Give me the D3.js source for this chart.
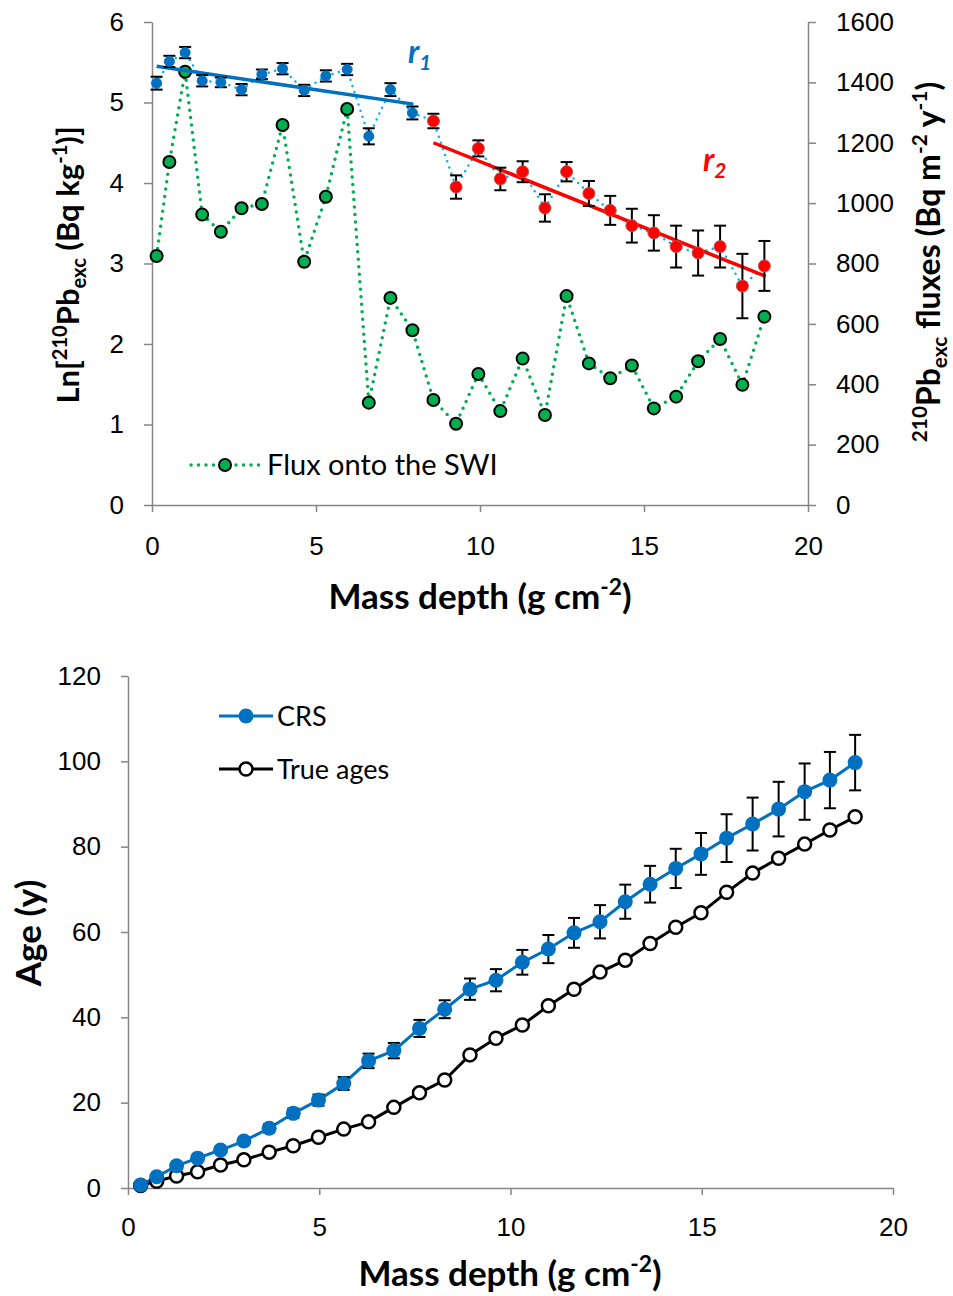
<!DOCTYPE html>
<html>
<head>
<meta charset="utf-8">
<script src="https://cdn.jsdelivr.net/npm/d3@7"></script>
<style>
  body { margin: 0; background: #fff; }
  svg { display: block; font-family: Lato, "Open Sans", sans-serif; }
</style>
</head>
<body>
<div id="chart"></div>
<script>
// ---- top panel data ----
const massDepth = [0.14, 0.53, 1.01, 1.53, 2.10, 2.73, 3.35, 3.98, 4.64, 5.30, 5.95, 6.61, 7.27, 7.94,
  8.58, 9.27, 9.95, 10.62, 11.30, 11.98, 12.64, 13.32, 13.97, 14.63, 15.30, 15.98, 16.65, 17.32, 18.00, 18.67];
const lnPb = [5.24, 5.51, 5.62, 5.27, 5.25, 5.16, 5.35, 5.42, 5.15, 5.33, 5.41, 4.58, 5.16, 4.87,
  4.77, 3.95, 4.43, 4.05, 4.14, 3.69, 4.14, 3.87, 3.66, 3.47, 3.38, 3.21, 3.13, 3.21, 2.72, 2.97];
const lnErr = [0.08, 0.07, 0.07, 0.07, 0.06, 0.07, 0.06, 0.07, 0.07, 0.07, 0.07, 0.10, 0.08, 0.08,
  0.09, 0.145, 0.10, 0.14, 0.13, 0.17, 0.12, 0.155, 0.18, 0.21, 0.22, 0.26, 0.28, 0.26, 0.40, 0.31];
const r1Count = 14; // first 14 points belong to r1 (blue), rest to r2 (red)
const flux = [825, 1136, 1435, 962, 905, 983, 997, 1259, 806, 1021, 1312, 339, 686, 579,
  348, 269, 434, 311, 485, 298, 692, 469, 420, 462, 320, 359, 476, 550, 398, 624];
const r1Line = [[0.14, 5.45], [7.97, 4.98]];
const r2Line = [[8.58, 4.50], [18.71, 2.84]];
const xTicksTop = [0, 5, 10, 15, 20];
const lnTicks = [0, 1, 2, 3, 4, 5, 6];
const fluxTicks = [0, 200, 400, 600, 800, 1000, 1200, 1400, 1600];

// ---- bottom panel data ----
const ageDepth = [0.33, 0.75, 1.27, 1.82, 2.42, 3.03, 3.69, 4.32, 4.98, 5.64, 6.29, 6.95, 7.62, 8.28, 8.94,
  9.62, 10.31, 10.99, 11.66, 12.34, 13.00, 13.65, 14.32, 14.98, 15.65, 16.33, 17.01, 17.69, 18.35, 19.01];
const crsAge = [0.7, 2.65, 5.2, 7.0, 8.9, 11.0, 14.0, 17.5, 20.6, 24.5, 29.8, 32.2, 37.4, 41.9, 46.6,
  48.7, 52.9, 56.0, 59.8, 62.4, 67.1, 71.2, 74.9, 78.3, 82.0, 85.3, 88.8, 92.9, 95.6, 99.7];
const crsErr = [0.3, 0.4, 0.5, 0.6, 0.7, 0.8, 1.0, 1.1, 1.3, 1.5, 1.7, 1.8, 2.0, 2.1, 2.5,
  2.6, 2.9, 3.3, 3.5, 3.9, 4.0, 4.3, 4.6, 4.9, 5.6, 6.2, 6.4, 6.6, 6.6, 6.5];
const trueAge = [0.6, 1.6, 2.8, 3.8, 5.4, 6.6, 8.4, 9.9, 11.9, 13.8, 15.5, 18.9, 22.3, 25.3, 31.2,
  35.1, 38.2, 42.7, 46.6, 50.6, 53.4, 57.3, 61.1, 64.5, 69.3, 73.8, 77.3, 80.6, 83.9, 87.0];
const xTicksBottom = [0, 5, 10, 15, 20];
const ageTicks = [0, 20, 40, 60, 80, 100, 120];

const width = 953, height = 1296;
const axisGrey = "#868686";
const fmt = d3.format("d");

const svg = d3.select("#chart").append("svg")
    .attr("width", width)
    .attr("height", height);

// text with super/subscripts: parts = [[text, kind]]
function rich(sel, parts, size) {
  let cur = 0;
  parts.forEach(([t, kind]) => {
    const target = kind === "sup" ? -0.4 * size : kind === "sub" ? 0.22 * size : 0;
    sel.append("tspan")
        .attr("dy", target - cur)
        .attr("font-size", kind ? size * 0.65 : size)
        .text(t);
    cur = target;
  });
}

function styleAxis(g) {
  g.selectAll("path, line").attr("stroke", axisGrey).attr("stroke-width", 1.5);
  g.selectAll("text").attr("fill", "#000").attr("font-size", 26);
}

// ================= TOP PANEL =================
const x1 = d3.scaleLinear().domain([0, 20]).range([152, 808]);
const yLn = d3.scaleLinear().domain([0, 6]).range([505, 22]);
const yFlux = d3.scaleLinear().domain([0, 1600]).range([505, 22]);

const topG = svg.append("g");

topG.append("g")
    .attr("transform", "translate(0,505)")
    .call(d3.axisBottom(x1).tickValues(xTicksTop).tickFormat(fmt).tickSize(7).tickPadding(25).tickSizeOuter(0))
    .call(styleAxis);
topG.append("g")
    .attr("transform", "translate(152,0)")
    .call(d3.axisLeft(yLn).tickValues(lnTicks).tickFormat(fmt).tickSize(8).tickPadding(20).tickSizeOuter(0))
    .call(styleAxis);
topG.append("g")
    .attr("transform", "translate(808,0)")
    .call(d3.axisRight(yFlux).tickValues(fluxTicks).tickFormat(fmt).tickSize(8).tickPadding(20).tickSizeOuter(0))
    .call(styleAxis);

// flux series (dotted green)
const fluxData = massDepth.map((d, i) => [d, flux[i]]);
topG.append("path")
    .datum(fluxData)
    .attr("fill", "none")
    .attr("stroke", "#00b050")
    .attr("stroke-width", 3.5)
    .attr("stroke-linecap", "round")
    .attr("stroke-dasharray", "0 7.5")
    .attr("d", d3.line().x(d => x1(d[0])).y(d => yFlux(d[1])));
topG.append("g").selectAll("circle")
    .data(fluxData)
    .join("circle")
    .attr("cx", d => x1(d[0]))
    .attr("cy", d => yFlux(d[1]))
    .attr("r", 6)
    .attr("fill", "#00b050")
    .attr("stroke", "#000")
    .attr("stroke-width", 2);

// ln series
const lnData = massDepth.map((d, i) => ({ x: d, y: lnPb[i], e: lnErr[i], grp: i < r1Count ? 1 : 2 }));
topG.append("path")
    .datum(lnData)
    .attr("fill", "none")
    .attr("stroke", "#00b0f0")
    .attr("stroke-width", 2.5)
    .attr("stroke-linecap", "round")
    .attr("stroke-dasharray", "0 6.5")
    .attr("d", d3.line().x(d => x1(d.x)).y(d => yLn(d.y)));

// regression lines
const fitLine = d3.line().x(d => x1(d[0])).y(d => yLn(d[1]));
topG.append("path").datum(r1Line).attr("d", fitLine)
    .attr("stroke", "#0070c0").attr("stroke-width", 3.5).attr("fill", "none");
topG.append("path").datum(r2Line).attr("d", fitLine)
    .attr("stroke", "#ff0000").attr("stroke-width", 3.5).attr("fill", "none");

// error bars
const lnBars = topG.append("g").attr("stroke", "#000").attr("stroke-width", 2);
lnData.forEach(d => {
  const cx = x1(d.x), y0 = yLn(d.y - d.e), y1 = yLn(d.y + d.e);
  lnBars.append("line").attr("x1", cx).attr("x2", cx).attr("y1", y0).attr("y2", y1);
  lnBars.append("line").attr("x1", cx - 6).attr("x2", cx + 6).attr("y1", y0).attr("y2", y0);
  lnBars.append("line").attr("x1", cx - 6).attr("x2", cx + 6).attr("y1", y1).attr("y2", y1);
});

topG.append("g").selectAll("circle")
    .data(lnData)
    .join("circle")
    .attr("cx", d => x1(d.x))
    .attr("cy", d => yLn(d.y))
    .attr("r", d => d.grp === 1 ? 5 : 6)
    .attr("fill", d => d.grp === 1 ? "#0070c0" : "#ff0000")
    .attr("stroke", d => d.grp === 1 ? "#0070c0" : "#c0504d")
    .attr("stroke-width", 1);

// r1 / r2 labels
const r1Txt = topG.append("text").attr("x", 408).attr("y", 63)
    .attr("fill", "#0070c0").attr("font-weight", "bold").attr("font-style", "italic");
rich(r1Txt, [["r", null], ["1", "sub"]], 32);
const r2Txt = topG.append("text").attr("x", 703).attr("y", 171)
    .attr("fill", "#ff0000").attr("font-weight", "bold").attr("font-style", "italic");
rich(r2Txt, [["r", null], ["2", "sub"]], 32);

// legend
topG.append("line").attr("x1", 191).attr("x2", 260).attr("y1", 465).attr("y2", 465)
    .attr("stroke", "#00b050").attr("stroke-width", 3.5).attr("stroke-linecap", "round")
    .attr("stroke-dasharray", "0 7.5");
topG.append("circle").attr("cx", 225).attr("cy", 465).attr("r", 6)
    .attr("fill", "#00b050").attr("stroke", "#000").attr("stroke-width", 2);
topG.append("text").attr("x", 267).attr("y", 475).attr("font-size", 29).text("Flux onto the SWI");

// axis titles
const xt1 = topG.append("text").attr("x", 480).attr("y", 609)
    .attr("text-anchor", "middle").attr("font-weight", "bold");
rich(xt1, [["Mass depth (g cm", null], ["-2", "sup"], [")", null]], 35);

const ytl = topG.append("text").attr("transform", "translate(79,265) rotate(-90)")
    .attr("text-anchor", "middle").attr("font-weight", "bold");
rich(ytl, [["Ln[", null], ["210", "sup"], ["Pb", null], ["exc", "sub"], [" (Bq kg", null], ["-1", "sup"], [")]", null]], 31);

const ytr = topG.append("text").attr("transform", "translate(940,262) rotate(-90)")
    .attr("text-anchor", "middle").attr("font-weight", "bold");
rich(ytr, [["210", "sup"], ["Pb", null], ["exc", "sub"], [" fluxes (Bq m", null], ["-2", "sup"], [" y", null], ["-1", "sup"], [")", null]], 32);

// ================= BOTTOM PANEL =================
const x2 = d3.scaleLinear().domain([0, 20]).range([128, 893]);
const yAge = d3.scaleLinear().domain([0, 120]).range([1188, 676]);

const botG = svg.append("g");
botG.append("g")
    .attr("transform", "translate(0,1188)")
    .call(d3.axisBottom(x2).tickValues(xTicksBottom).tickFormat(fmt).tickSize(7).tickPadding(23).tickSizeOuter(0))
    .call(styleAxis);
botG.append("g")
    .attr("transform", "translate(128,0)")
    .call(d3.axisLeft(yAge).tickValues(ageTicks).tickFormat(fmt).tickSize(7).tickPadding(20).tickSizeOuter(0))
    .call(styleAxis);

const lineAge = d3.line().x(d => x2(d[0])).y(d => yAge(d[1]));
const crsData = ageDepth.map((d, i) => [d, crsAge[i], crsErr[i]]);
const trueData = ageDepth.map((d, i) => [d, trueAge[i]]);

botG.append("path").datum(trueData).attr("d", lineAge)
    .attr("fill", "none").attr("stroke", "#000").attr("stroke-width", 3);
botG.append("path").datum(crsData).attr("d", lineAge)
    .attr("fill", "none").attr("stroke", "#0070c0").attr("stroke-width", 3);

const ageBars = botG.append("g").attr("stroke", "#000").attr("stroke-width", 2);
crsData.forEach(d => {
  const cx = x2(d[0]), y0 = yAge(d[1] - d[2]), y1 = yAge(d[1] + d[2]);
  ageBars.append("line").attr("x1", cx).attr("x2", cx).attr("y1", y0).attr("y2", y1);
  ageBars.append("line").attr("x1", cx - 6).attr("x2", cx + 6).attr("y1", y0).attr("y2", y0);
  ageBars.append("line").attr("x1", cx - 6).attr("x2", cx + 6).attr("y1", y1).attr("y2", y1);
});

botG.append("g").selectAll("circle")
    .data(trueData)
    .join("circle")
    .attr("cx", d => x2(d[0])).attr("cy", d => yAge(d[1]))
    .attr("r", 6.5).attr("fill", "#fff").attr("stroke", "#000").attr("stroke-width", 2.5);
botG.append("g").selectAll("circle")
    .data(crsData)
    .join("circle")
    .attr("cx", d => x2(d[0])).attr("cy", d => yAge(d[1]))
    .attr("r", 7.5).attr("fill", "#0070c0");

// legend
botG.append("line").attr("x1", 219).attr("x2", 273).attr("y1", 716).attr("y2", 716)
    .attr("stroke", "#0070c0").attr("stroke-width", 3);
botG.append("circle").attr("cx", 246).attr("cy", 716).attr("r", 7.5).attr("fill", "#0070c0");
botG.append("text").attr("x", 277).attr("y", 726).attr("font-size", 27).text("CRS");
botG.append("line").attr("x1", 219).attr("x2", 273).attr("y1", 769).attr("y2", 769)
    .attr("stroke", "#000").attr("stroke-width", 3);
botG.append("circle").attr("cx", 246).attr("cy", 769).attr("r", 6.5)
    .attr("fill", "#fff").attr("stroke", "#000").attr("stroke-width", 2.5);
botG.append("text").attr("x", 277).attr("y", 779).attr("font-size", 27).text("True ages");

const xt2 = botG.append("text").attr("x", 510).attr("y", 1286)
    .attr("text-anchor", "middle").attr("font-weight", "bold");
rich(xt2, [["Mass depth (g cm", null], ["-2", "sup"], [")", null]], 35);

botG.append("text").attr("transform", "translate(41,933) rotate(-90)")
    .attr("text-anchor", "middle").attr("font-weight", "bold").attr("font-size", 35)
    .text("Age (y)");
</script>
</body>
</html>
